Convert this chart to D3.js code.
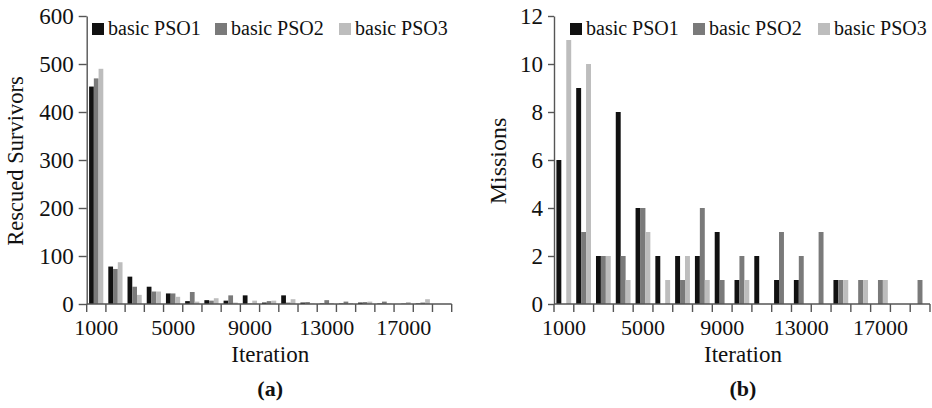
<!DOCTYPE html>
<html lang="en">
<head>
  <meta charset="UTF-8">
  <title>Basic PSO: rescued survivors and missions</title>
  <script src="https://d3js.org/d3.v7.min.js"></script>
  <style>
    body { margin: 0; background: #fff; }
    svg { display: block; font-family: "Liberation Serif", "DejaVu Serif", serif; }
  </style>
</head>
<body>
<svg id="chart" width="932" height="408"></svg>
<script>
// Data
const iterations = d3.range(1000, 19001, 1000);
const seriesNames = ["basic PSO1", "basic PSO2", "basic PSO3"];
const seriesColors = ["#111111", "#7a7a7a", "#bdbdbd"];

const survivorsPSO1 = [453, 78, 57, 36, 22, 6, 8, 7, 18, 3, 18, 3, 1, 1, 3, 1, 0, 1, 0];
const survivorsPSO2 = [470, 73, 36, 26, 22, 25, 7, 18, 1, 6, 3, 4, 8, 5, 4, 5, 1, 3, 0];
const survivorsPSO3 = [490, 87, 19, 26, 15, 5, 12, 3, 7, 7, 10, 1, 2, 2, 5, 1, 4, 10, 0];

const missionsPSO1 = [6, 9, 2, 8, 4, 2, 2, 2, 3, 1, 2, 1, 1, 0, 1, 0, 0, 0, 0];
const missionsPSO2 = [0, 3, 2, 2, 4, 0, 1, 4, 1, 2, 0, 3, 2, 3, 1, 1, 1, 0, 1];
const missionsPSO3 = [11, 10, 2, 1, 3, 1, 2, 1, 0, 1, 0, 0, 0, 0, 1, 1, 1, 0, 0];

const xTickLabels = [1000, 5000, 9000, 13000, 17000];
const survivorTicks = [0, 100, 200, 300, 400, 500, 600];
const missionTicks = [0, 2, 4, 6, 8, 10, 12];

const svg = d3.select("#chart");
const axisColor = "#555";

function drawPanel(opts) {
  const { left, right, top, bottom, yMax, yTicks, series, yLabel, yLabelX, yLabelSize, caption, legendX, tickSize } = opts;

  const x = d3.scaleBand().domain(iterations).range([left, right]).padding(0);
  const xs = d3.scaleBand().domain(seriesNames).range([2.4, x.bandwidth() - 2.6]);
  const y = d3.scaleLinear().domain([0, yMax]).range([bottom, top]);

  const g = svg.append("g");

  // bars
  seriesNames.forEach((name, si) => {
    g.append("g")
      .attr("fill", seriesColors[si])
      .selectAll("rect")
      .data(series[si].map((v, i) => ({ it: iterations[i], v })))
      .join("rect")
      .attr("x", d => x(d.it) + xs(name))
      .attr("width", xs.bandwidth())
      .attr("y", d => y(d.v))
      .attr("height", d => y(0) - y(d.v));
  });

  // y axis
  const yAxis = g.append("g")
    .attr("transform", `translate(${left},0)`)
    .call(d3.axisLeft(y).tickValues(yTicks).tickSize(tickSize).tickSizeOuter(0).tickPadding(5));
  yAxis.selectAll("path, line").attr("stroke", axisColor).attr("stroke-width", 1.4);
  yAxis.selectAll("text").attr("font-size", 23).attr("fill", "#111").attr("font-family", "Liberation Serif");

  // x axis: line, boundary ticks, labels centred in bands
  const xAxis = g.append("g").attr("transform", `translate(0,${bottom})`);
  xAxis.append("line")
    .attr("x1", left).attr("x2", right)
    .attr("stroke", axisColor).attr("stroke-width", 1.4);
  const bounds = iterations.map(d => x(d)).concat([x.range()[1]]);
  xAxis.selectAll(".bt")
    .data(bounds)
    .join("line")
    .attr("class", "bt")
    .attr("x1", d => d).attr("x2", d => d)
    .attr("y1", 0).attr("y2", 8)
    .attr("stroke", axisColor).attr("stroke-width", 1.4);
  xAxis.selectAll(".xl")
    .data(xTickLabels)
    .join("text")
    .attr("class", "xl")
    .attr("x", d => x(d) + x.bandwidth() / 2)
    .attr("y", 31)
    .attr("text-anchor", "middle")
    .attr("font-size", 22)
    .attr("fill", "#111")
    .text(d => d);

  // axis titles
  g.append("text")
    .attr("x", (left + right) / 2 + 1)
    .attr("y", 362)
    .attr("text-anchor", "middle")
    .attr("font-size", 23)
    .attr("fill", "#111")
    .text("Iteration");

  g.append("text")
    .attr("transform", `translate(${yLabelX},${(top + bottom) / 2 + 1}) rotate(-90)`)
    .attr("text-anchor", "middle")
    .attr("font-size", yLabelSize)
    .attr("fill", "#111")
    .text(yLabel);

  g.append("text")
    .attr("x", (left + right) / 2 + 1)
    .attr("y", 396)
    .attr("text-anchor", "middle")
    .attr("font-size", 22)
    .attr("font-weight", "bold")
    .attr("fill", "#111")
    .text(caption);

  // legend
  const leg = g.append("g")
    .selectAll("g")
    .data(seriesNames)
    .join("g")
    .attr("transform", (d, i) => `translate(${legendX[i]},23)`);
  leg.append("rect")
    .attr("width", 12).attr("height", 12)
    .attr("fill", (d, i) => seriesColors[i]);
  leg.append("text")
    .attr("x", 16).attr("y", 12)
    .attr("font-size", 20)
    .attr("fill", "#111")
    .text(d => d);
}

drawPanel({
  left: 86.7, right: 451.7, top: 16, bottom: 304,
  yMax: 600, yTicks: survivorTicks,
  series: [survivorsPSO1, survivorsPSO2, survivorsPSO3],
  yLabel: "Rescued Survivors", yLabelX: 23, yLabelSize: 22.5,
  caption: "(a)", legendX: [92, 215, 339], tickSize: 8
});

drawPanel({
  left: 554, right: 930, top: 16, bottom: 304,
  yMax: 12, yTicks: missionTicks,
  series: [missionsPSO1, missionsPSO2, missionsPSO3],
  yLabel: "Missions", yLabelX: 506, yLabelSize: 24,
  caption: "(b)", legendX: [570, 693, 818], tickSize: 6
});
</script>
</body>
</html>
